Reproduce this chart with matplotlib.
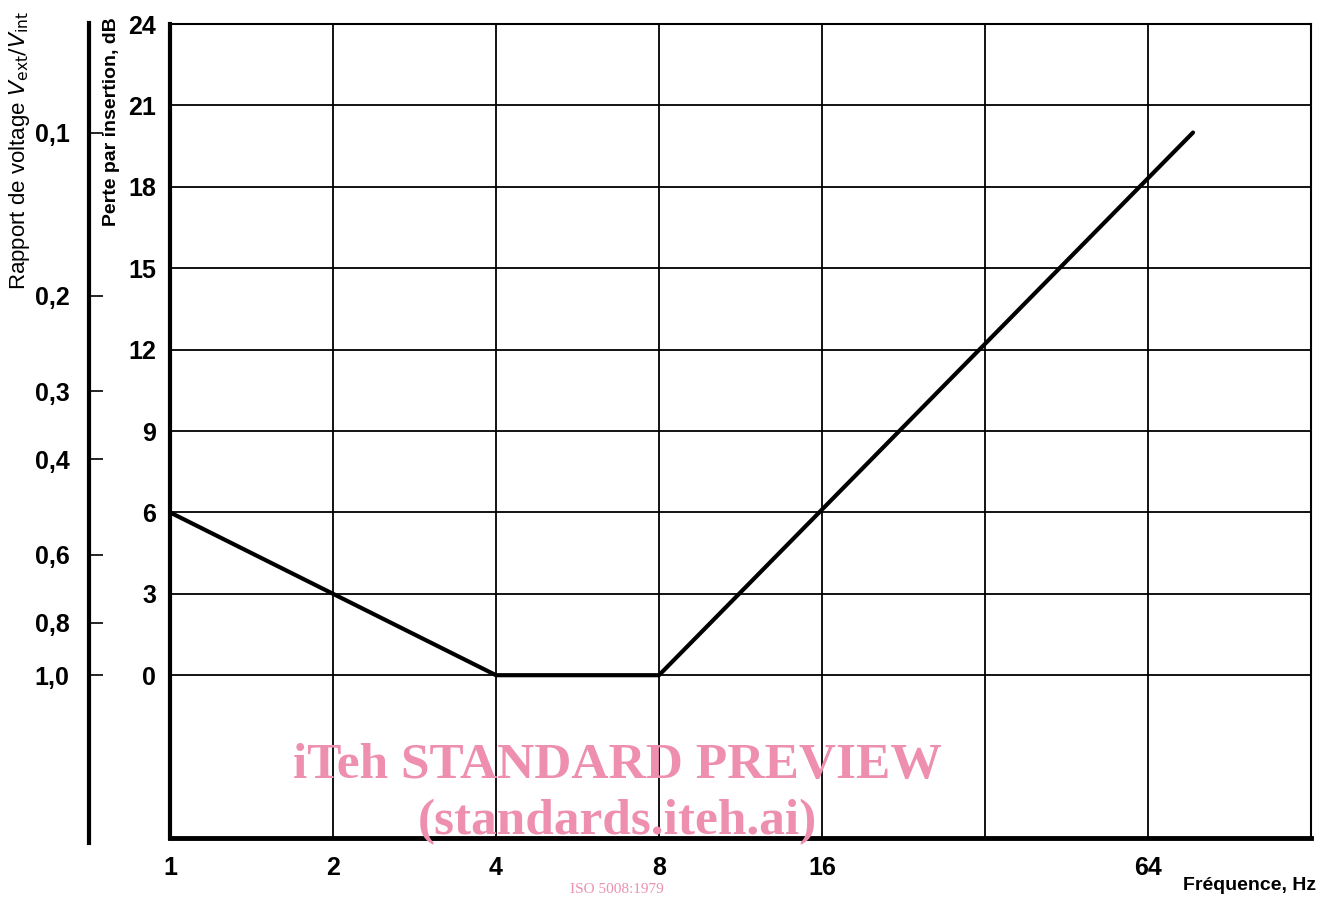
import matplotlib.pyplot as plt
import numpy as np

# insertion loss curve
freq_hz = [1, 4, 8, 77.5]
loss_db = [6, 0, 0, 20]

x_ticks = [1, 2, 4, 8, 16, 64]
x_grid = [2, 4, 8, 16, 32, 64]
y_ticks = [0, 3, 6, 9, 12, 15, 18, 21, 24]
ratio_ticks = [0.1, 0.2, 0.3, 0.4, 0.6, 0.8, 1.0]
ratio_labels = ["0,1", "0,2", "0,3", "0,4", "0,6", "0,8", "1,0"]

plt.rcParams['font.family'] = ['Liberation Sans', 'DejaVu Sans']

fig = plt.figure(figsize=(13.33, 8.97), dpi=100)
W, H = 1333, 897
bottom = 1 - 838 / H
top = 1 - 24 / H
ax = fig.add_axes([170 / W, bottom, (1311 - 170) / W, top - bottom])

ax.set_xscale('log', base=2)
ax.set_xlim(1, 128)
ax.set_ylim(-6, 24)

for xv in x_grid:
    ax.axvline(xv, color='black', lw=1.3, zorder=1)
for yv in y_ticks:
    ax.axhline(yv, color='black', lw=1.3, zorder=1)

ax.plot(freq_hz, loss_db, color='black', lw=3, solid_capstyle='round', zorder=3)

ax.set_xticks(x_ticks, labels=[str(v) for v in x_ticks])
ax.xaxis.set_minor_locator(plt.NullLocator())
ax.set_yticks(y_ticks, labels=[str(v) for v in y_ticks])
ax.tick_params(axis='both', length=0, labelsize=18)
ax.tick_params(axis='x', pad=13)
ax.tick_params(axis='y', pad=10)
for lab in ax.get_xticklabels() + ax.get_yticklabels():
    lab.set_fontweight('bold')

ax.spines['left'].set_linewidth(3)
ax.spines['bottom'].set_linewidth(3.5)
ax.spines['top'].set_linewidth(1.5)
ax.spines['right'].set_linewidth(1.5)

fig.text(112 / W, 1 - 17 / H, "Perte par insertion, dB", rotation=90,
         ha='center', va='top', fontsize=14, fontweight='bold')
fig.text(1316 / W, 1 - 885 / H, "Fréquence, Hz", ha='right', va='center',
         fontsize=14, fontweight='bold')

# voltage ratio scale on the far left
ax2 = fig.add_axes([89 / W, 1 - 843 / H, 0.001, (843 - 23) / H])
ax2.set_ylim(-6 - 5 * 30 / 814, 24 + 1 * 30 / 814)
ax2.set_xticks([])
ratio_db = [-20 * np.log10(r) for r in ratio_ticks]
ax2.set_yticks(ratio_db, labels=ratio_labels)
ax2.tick_params(axis='y', direction='in', length=10, width=1.2,
                labelsize=18, pad=14)
for lab in ax2.get_yticklabels():
    lab.set_fontweight('bold')
for s in ['top', 'right', 'bottom']:
    ax2.spines[s].set_visible(False)
ax2.spines['left'].set_linewidth(3)
ax2.patch.set_visible(False)

fig.text(20 / W, 1 - 150 / H, r"Rapport de voltage $V_{\mathrm{ext}}/V_{\mathrm{int}}$",
         rotation=90, ha='center', va='center', fontsize=16)

# watermark
wm = '#ee8fb0'
fig.text(617 / W, 1 - 766 / H, "iTeh STANDARD PREVIEW", ha='center', va='center',
         fontsize=37, fontweight='bold', color=wm, family='Liberation Serif')
fig.text(617 / W, 1 - 822 / H, "(standards.iteh.ai)", ha='center', va='center',
         fontsize=37, fontweight='bold', color=wm, family='Liberation Serif')
fig.text(617 / W, 1 - 896 / H, "ISO 5008:1979", ha='center', va='bottom',
         fontsize=11, color=wm, family='Liberation Serif')

fig.savefig("out.png", dpi=100)
